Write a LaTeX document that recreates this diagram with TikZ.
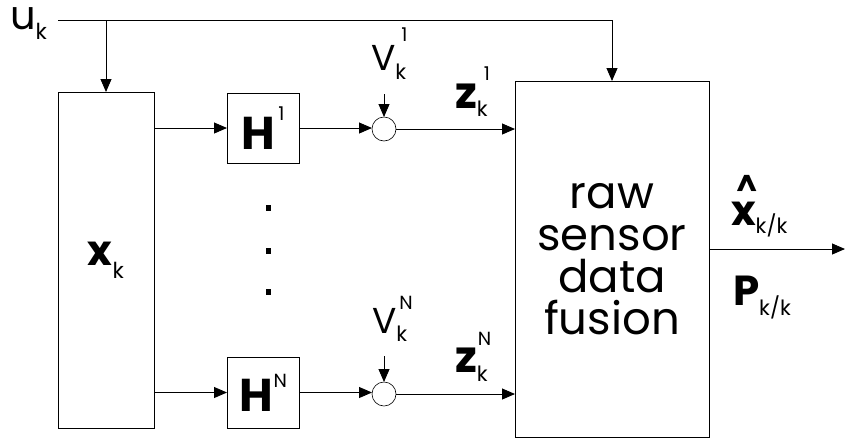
\documentclass[tikz,border=0pt]{standalone}
\usepackage{fontspec}
\setmainfont{Poppins}
\usetikzlibrary{arrows.meta}
\newcommand\fsz[1]{\fontsize{#1}{#1}\selectfont}
\begin{document}
\begin{tikzpicture}[x=1pt,y=-1pt,
  box/.style={draw, rectangle, line width=0.9pt, inner sep=0pt, outer sep=0pt},
  conn/.style={line width=0.9pt, -{Triangle[length=13pt,width=11pt]}},
  sumpt/.style={draw, circle, line width=0.6pt, minimum size=24pt, inner sep=0pt, outer sep=0pt},
  lbl/.style={inner sep=0pt, outer sep=0pt, anchor=base west},
  dotmark/.style={fill, rectangle, inner sep=0pt, minimum width=5pt, minimum height=6pt}]
\path[use as bounding box] (0,0) rectangle (845,440);

% blocks
\node[box, minimum width=96pt, minimum height=336pt] (X) at (106,260)
  {\fsz{42}\bfseries x\raisebox{-13pt}{\fsz{22}\mdseries k}};
\node[box, minimum width=72pt, minimum height=70pt] (H1) at (263,128)
  {\fsz{46}\bfseries H\hspace{3pt}\raisebox{29pt}{\fsz{19}\mdseries 1}};
\node[box, minimum width=72pt, minimum height=71pt] (HN) at (263,392.5)
  {\fsz{46}\bfseries H\hspace{1pt}\raisebox{24pt}{\fsz{19}\mdseries N}};
\node[box, minimum width=194pt, minimum height=356pt, align=center,
      font=\fontsize{45}{42}\selectfont] (F) at (612,259)
  {raw\\sensor\\data\\fusion};

% summing points
\node[sumpt] (s1) at (384,129) {};
\node[sumpt] (sN) at (384,394) {};

% dots
\node[dotmark] (d1) at (268,208) {};
\node[dotmark] (d2) at (268,251) {};
\node[dotmark] (d3) at (268,292) {};

% coordinates
\coordinate (ustart) at (58,20);
\coordinate (v1) at (384,94);
\coordinate (vN) at (384,356);
\coordinate (out) at (845,249);

% labels
\node[lbl] (lu) at (10,29) {\fsz{40}u\raisebox{-10pt}{\fsz{22}k}};
\node[lbl] (lv1) at (371,70) {\fsz{36}V\rlap{\raisebox{-9pt}{\fsz{21}k}}\hspace{6pt}\raisebox{29pt}{\fsz{19}1}};
\node[lbl] (lvN) at (372,333) {\fsz{36}V\rlap{\raisebox{-8pt}{\fsz{21}k}}\hspace{3pt}\raisebox{24pt}{\fsz{19}N}};
\node[lbl] (lz1) at (455,108) {\fsz{44}\bfseries z\rlap{\raisebox{-8pt}{\fsz{21}\mdseries k}}\hspace{7pt}\raisebox{28pt}{\fsz{19}\mdseries 1}};
\node[lbl] (lzN) at (455,372) {\fsz{44}\bfseries z\rlap{\raisebox{-9pt}{\fsz{21}\mdseries k}}\hspace{1pt}\raisebox{27pt}{\fsz{19}\mdseries N}};
\node[lbl] (lxh) at (731,225) {\fsz{42}\bfseries\rlap{\hspace{5pt}\raisebox{29pt}{\fsz{30}\textasciicircum}}x\raisebox{-8pt}{\fsz{21}\mdseries k/k}};
\node[lbl] (lP) at (733,305) {\fsz{42}\bfseries P\raisebox{-10pt}{\fsz{21}\mdseries k/k}};

% connectors
\draw[conn] (ustart) -| (F.north);
\draw[conn] (ustart -| X.north) -- (X.north);
\draw[conn] (X.east |- H1.west) -- (H1.west);
\draw[conn] (X.east |- HN.west) -- (HN.west);
\draw[conn] (H1.east) -- (H1.east -| s1.west);
\draw[conn] (HN.east) -- (HN.east -| sN.west);
\draw[conn] (s1.east) -- (s1.east -| F.west);
\draw[conn] (sN.east) -- (sN.east -| F.west);
\draw[conn] (v1) -- (s1.north);
\draw[conn] (vN) -- (sN.north);
\draw[conn] (F.east |- out) -- (out);
\end{tikzpicture}
\end{document}
